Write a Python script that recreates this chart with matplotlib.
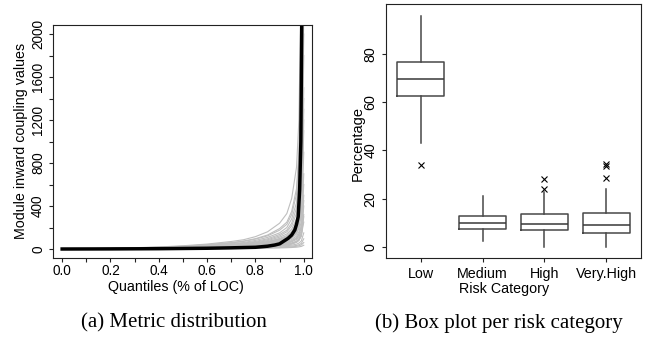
import matplotlib
matplotlib.use("Agg")
import matplotlib.pyplot as plt

plt.rcParams["font.family"] = ["Liberation Sans", "DejaVu Sans"]

# (a) quantile curves of module inward coupling, one gray curve per system
quantiles = [0, 0.1, 0.2, 0.3, 0.4, 0.5, 0.6, 0.7, 0.75, 0.8, 0.85,
             0.9, 0.93, 0.95, 0.97, 0.98, 0.99, 1.0]
system_curves = [
    [0, 0, 0, 1, 1, 2, 3, 4, 5, 6, 8, 10, 12, 14, 17, 20, 24, 35],
    [0, 0, 1, 1, 2, 3, 4, 6, 7, 9, 11, 14, 17, 20, 25, 30, 38, 60],
    [0, 1, 1, 2, 3, 4, 6, 8, 10, 12, 15, 19, 23, 27, 33, 40, 52, 95],
    [0, 0, 1, 2, 3, 5, 7, 10, 12, 15, 19, 25, 30, 36, 45, 55, 75, 150],
    [0, 1, 2, 3, 5, 7, 10, 14, 17, 21, 27, 36, 45, 55, 70, 90, 130, 320],
    [0, 1, 2, 4, 6, 9, 13, 18, 22, 28, 36, 50, 62, 78, 105, 140, 220, 600],
    [0, 1, 3, 5, 8, 12, 17, 24, 29, 37, 48, 66, 82, 105, 150, 210, 360, 1100],
    [0, 2, 4, 6, 10, 15, 22, 32, 39, 50, 66, 92, 115, 150, 220, 320, 600, 2500],
    [0, 2, 5, 8, 13, 20, 30, 44, 54, 70, 95, 135, 175, 240, 380, 600, 1300, 5000],
    [0, 3, 6, 11, 17, 26, 40, 60, 74, 96, 130, 190, 250, 350, 560, 900, 2100, 6000],
    [0, 1, 3, 6, 9, 14, 21, 31, 38, 48, 62, 85, 105, 135, 190, 270, 480, 1800],
    [0, 1, 2, 3, 5, 8, 12, 17, 21, 26, 34, 46, 57, 72, 98, 130, 200, 700],
    [0, 2, 4, 7, 11, 17, 25, 37, 45, 58, 78, 110, 140, 185, 280, 420, 850, 3500],
    [0, 1, 2, 4, 7, 10, 15, 22, 27, 34, 45, 62, 78, 100, 140, 195, 320, 1200],
    [0, 0, 1, 2, 3, 5, 8, 11, 14, 18, 23, 31, 38, 47, 62, 80, 120, 400],
    [0, 1, 1, 2, 4, 6, 9, 13, 16, 20, 26, 35, 43, 54, 72, 95, 150, 500],
    [0, 2, 3, 6, 9, 13, 19, 28, 34, 43, 56, 78, 98, 125, 180, 260, 460, 2200],
    [0, 3, 7, 12, 19, 30, 46, 70, 86, 115, 160, 240, 330, 470, 760, 1200, 2600, 8000],
    [0, 1, 2, 3, 4, 6, 9, 13, 16, 20, 25, 33, 40, 50, 66, 86, 130, 250],
    [0, 2, 4, 7, 10, 15, 23, 33, 41, 52, 70, 98, 125, 165, 240, 360, 700, 2800],
    [0, 1, 2, 4, 6, 9, 14, 21, 26, 33, 44, 58, 70, 88, 120, 160, 260, 900],
    [0, 2, 4, 6, 9, 14, 21, 31, 38, 50, 64, 90, 112, 148, 210, 300, 560, 2000],
    [0, 1, 3, 5, 8, 13, 19, 27, 35, 42, 58, 80, 100, 128, 175, 240, 420, 1500],
    [0, 2, 5, 9, 14, 22, 33, 50, 60, 80, 108, 150, 200, 280, 430, 700, 1600, 5500],
    [0, 1, 2, 4, 7, 11, 16, 24, 29, 38, 49, 70, 92, 118, 165, 230, 400, 1400],
    [0, 0, 1, 2, 4, 6, 9, 13, 15, 19, 24, 32, 39, 48, 64, 84, 125, 300],
    [0, 1, 2, 3, 5, 8, 11, 16, 20, 25, 32, 43, 52, 66, 88, 115, 170, 450],
    [0, 2, 4, 8, 12, 18, 27, 40, 49, 63, 86, 122, 160, 215, 330, 520, 1100, 4200],
    [0, 1, 3, 5, 8, 12, 18, 26, 31, 40, 52, 72, 90, 115, 160, 225, 390, 1300],
    [0, 3, 6, 10, 16, 25, 38, 56, 70, 92, 122, 175, 230, 320, 510, 820, 1900, 6500],
]
# black curve: all systems together
overall_q = [0, 0.2, 0.4, 0.6, 0.7, 0.8, 0.85, 0.88, 0.9, 0.935, 0.95,
             0.963, 0.97, 0.977, 0.983, 0.988, 0.992, 1.0]
overall_v = [0, 1, 3, 7, 11, 16, 26, 37, 48, 99, 130, 177, 230, 300, 550,
             1000, 2200, 9000]

# (b) box plot per risk category
categories = ["Low", "Medium", "High", "Very.High"]
box_q1 = [62.5, 7.4, 7.1, 5.7]
box_med = [69.8, 10.1, 9.7, 9.0]
box_q3 = [76.8, 13.0, 13.8, 14.1]
whisk_lo = [43.2, 2.5, 0.0, 0.0]
whisk_hi = [95.8, 21.1, 22.8, 23.9]
outliers = [[34.1], [], [24.0, 28.0], [28.7, 33.6, 34.2]]

fig = plt.figure(figsize=(6.5, 3.43), dpi=100)

# ---- (a) metric distribution ----
ax1 = fig.add_axes([0.0815, 0.2478, 0.3992, 0.6793])
for curve in system_curves:
    ax1.plot(quantiles, curve, color="#bebebe", lw=0.8)
ax1.plot(overall_q, overall_v, color="black", lw=2.5)
ax1.set_xlim(-0.038, 1.036)
ax1.set_ylim(-83.7, 2083.7)

xt = [i / 10 for i in range(11)]
ax1.set_xticks(xt[::2], ["%.1f" % v for v in xt[::2]])
ax1.set_xticks(xt[1::2], minor=True)
yt = list(range(0, 2001, 200))
ax1.set_yticks(yt[::2], [str(v) for v in yt[::2]], rotation=90, va="center")
ax1.set_yticks(yt[1::2], minor=True)
ax1.tick_params(which="both", direction="out", length=3, width=0.8,
                labelsize=9.8, color="#222222")
ax1.tick_params(axis="x", pad=1.3)
ax1.tick_params(axis="y", pad=2.7)

# ---- (b) box plot ----
ax2 = fig.add_axes([0.5938, 0.2478, 0.3923, 0.7405])
stats = []
for i, cat in enumerate(categories):
    stats.append(dict(label=cat, q1=box_q1[i], med=box_med[i], q3=box_q3[i],
                      whislo=whisk_lo[i], whishi=whisk_hi[i],
                      fliers=outliers[i]))
line_c = "#484848"
ax2.bxp(stats, positions=[1, 2, 3, 4], widths=0.75, showcaps=False,
        boxprops=dict(color=line_c, lw=1.1),
        whiskerprops=dict(color=line_c, lw=1.1, linestyle="-"),
        medianprops=dict(color="#383838", lw=1.1),
        flierprops=dict(marker="x", markeredgecolor="black", markersize=4,
                        markeredgewidth=0.8, linestyle="none"))
ax2.set_xlim(0.44, 4.56)
ax2.set_ylim(-4.56, 100.7)
ax2.set_yticks([0, 20, 40, 60, 80], ["0", "20", "40", "60", "80"],
               rotation=90, va="center")
ax2.tick_params(which="both", direction="out", length=3, width=0.8,
                labelsize=10.3, color="#222222")
ax2.tick_params(axis="x", pad=3.4)
ax2.tick_params(axis="y", pad=3.0)

for ax in (ax1, ax2):
    for sp in ax.spines.values():
        sp.set_color("#222222")
        sp.set_linewidth(0.8)

# axis titles
W, H = 650.0, 343.0
fig.text(176 / W, 1 - 287 / H, "Quantiles (% of LOC)", ha="center",
         va="center", fontsize=10.3)
fig.text(21 / W, 1 - 141 / H, "Module inward coupling values", ha="center",
         va="center", rotation=90, fontsize=10.3)
fig.text(504 / W, 1 - 289 / H, "Risk Category", ha="center", va="center",
         fontsize=10.3)
fig.text(358 / W, 1 - 143 / H, "Percentage", ha="center", va="center",
         rotation=90, fontsize=10.5)

# sub-captions
fig.text(174 / W, 1 - 323 / H, "(a) Metric distribution", ha="center",
         va="center", fontsize=15, family=["Liberation Serif", "DejaVu Serif"])
fig.text(499 / W, 1 - 323 / H, "(b) Box plot per risk category", ha="center",
         va="center", fontsize=15, family=["Liberation Serif", "DejaVu Serif"])

fig.savefig("out.png", dpi=100)
